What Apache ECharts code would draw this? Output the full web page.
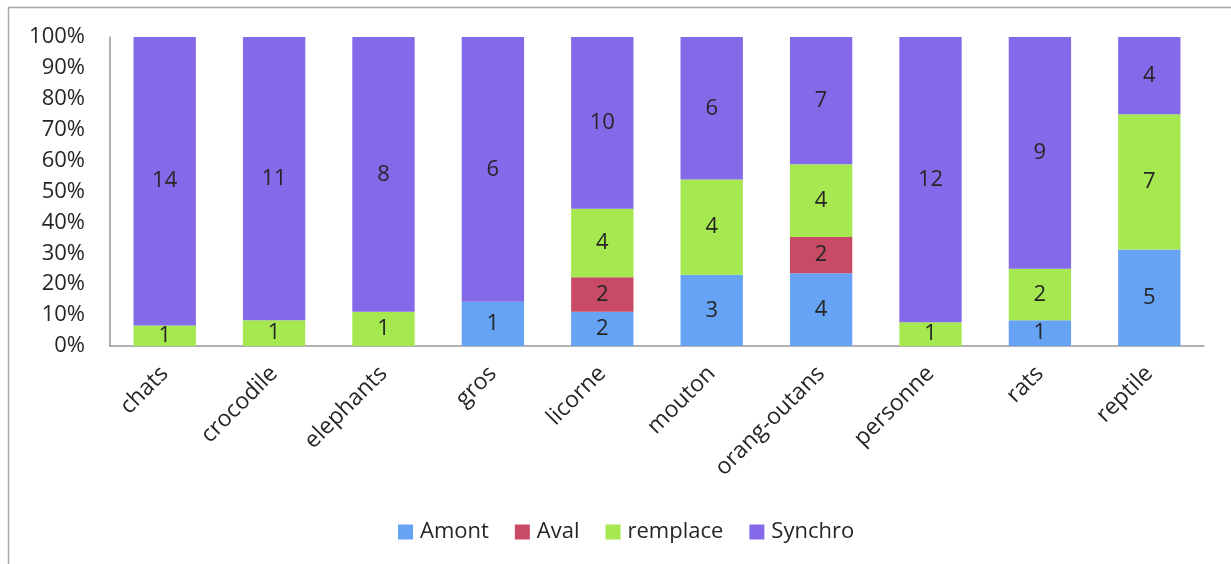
<!DOCTYPE html>
<html><head><meta charset="utf-8">
<script src="https://cdn.jsdelivr.net/npm/echarts@6/dist/echarts.min.js"></script>
<style>html,body{margin:0;padding:0;background:#fff}#c{width:1231px;height:564px}</style>
</head><body><div id="c"></div>
<script>
const categories = ['chats','crocodile','elephants','gros','licorne','mouton','orang-outans','personne','rats','reptile'];
const amont    = [0,0,0,1,2,3,4,0,1,5];
const aval     = [0,0,0,0,2,0,2,0,0,0];
const remplace = [1,1,1,0,4,4,4,1,2,7];
const synchro  = [14,11,8,6,10,6,7,12,9,4];
const yTicks = ['0%','10%','20%','30%','40%','50%','60%','70%','80%','90%','100%'];

const totals = categories.map((_, i) => amont[i] + aval[i] + remplace[i] + synchro[i]);
const pct = arr => arr.map((v, i) => v / totals[i] * 100);

const font = '"Open Sans", "Noto Sans", sans-serif';
const colors = ['#67a3f5', '#c94a65', '#a6e84f', '#8469e8'];
function mk(name, arr, color) {
  return {
    name, type: 'bar', stack: 'all', barWidth: '57%',
    data: pct(arr),
    itemStyle: { color },
    label: {
      show: true, position: 'inside', color: '#262626', fontSize: 22, fontFamily: font,
      formatter: p => arr[p.dataIndex] ? String(arr[p.dataIndex]) : ''
    }
  };
}
const chart = echarts.init(document.getElementById('c'));
chart.setOption({
  animation: false,
  textStyle: { fontFamily: font },
  grid: { left: 110, right: 27, top: 37, bottom: 218 },
  graphic: [{ type: 'rect', shape: { x: 8.5, y: 7.5, width: 1400, height: 700 }, style: { fill: 'none', stroke: '#a6a6a6', lineWidth: 1.5 }, silent: true }],
  legend: {
    bottom: 16, left: 393, itemWidth: 15, itemHeight: 15, itemGap: 26,
    icon: 'rect',
    textStyle: { fontSize: 22, color: '#262626', fontFamily: font, padding: [0, 0, 0, 2] },
    data: ['Amont', 'Aval', 'remplace', 'Synchro']
  },
  xAxis: {
    type: 'category', data: categories,
    axisLine: { lineStyle: { color: '#999', width: 1.5 } },
    axisTick: { show: false },
    axisLabel: { rotate: 45, fontSize: 23, color: '#262626', margin: 24, fontFamily: font, interval: 0 }
  },
  yAxis: {
    type: 'value', min: 0, max: 100, interval: 10,
    axisLine: { show: true, lineStyle: { color: '#999', width: 1.5 } },
    axisTick: { show: false },
    splitLine: { show: false },
    axisLabel: { fontSize: 22, color: '#262626', margin: 25, fontFamily: font,
      formatter: v => yTicks[Math.round(v / 10)] }
  },
  series: [mk('Amont', amont, colors[0]), mk('Aval', aval, colors[1]), mk('remplace', remplace, colors[2]), mk('Synchro', synchro, colors[3])]
});
</script></body></html>
